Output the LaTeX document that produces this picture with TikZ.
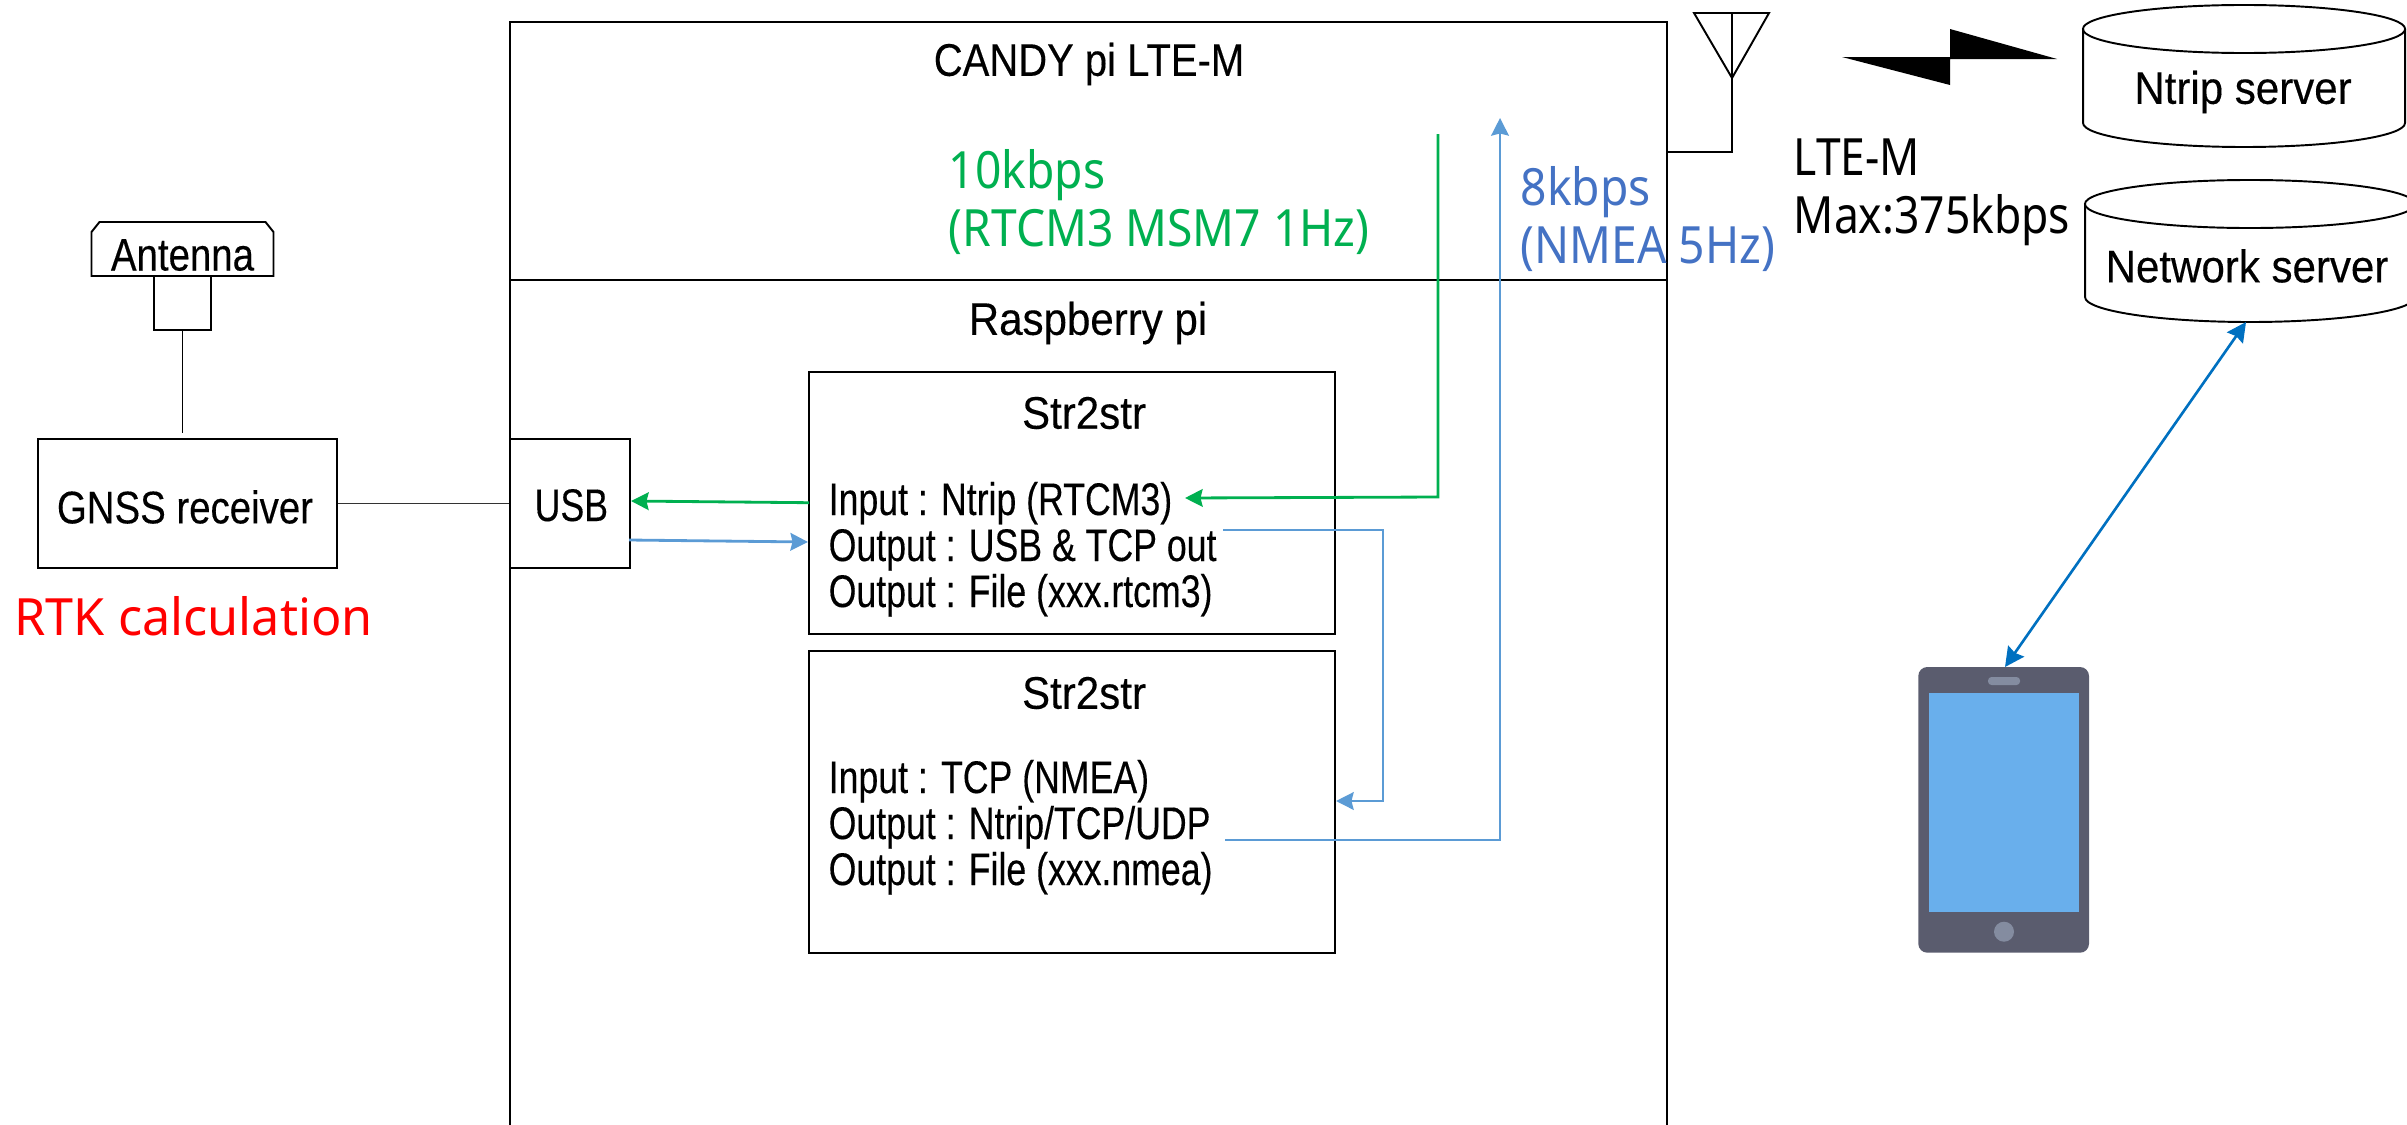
\documentclass[tikz,border=0pt]{standalone}
\usepackage{fontspec}
\setmainfont{Liberation Sans}
\newfontfamily\gothic[FakeStretch=0.92,FakeBold=0.25]{Liberation Sans}
\newfontfamily\gothicn[FakeStretch=0.78,FakeBold=0.25]{Liberation Sans}
\newfontfamily\gothicm[FakeStretch=0.84,FakeBold=0.25]{Liberation Sans}
\newfontfamily\gothich[FakeStretch=0.875,FakeBold=0.25]{Liberation Sans}
\newfontfamily\meiryo[FakeStretch=0.90]{Noto Sans}
\newfontfamily\meiryob[FakeStretch=0.865]{Noto Sans}
\newfontfamily\meiryoc[FakeStretch=0.98]{Noto Sans}
\usetikzlibrary{arrows.meta}
\definecolor{grn}{HTML}{00B050}
\definecolor{blu}{HTML}{5B9BD5}
\definecolor{txtblu}{HTML}{4472C4}
\definecolor{dblu}{HTML}{0070C0}
\definecolor{phone}{HTML}{5A5C6E}
\definecolor{screen}{HTML}{69AFEC}
\definecolor{phgray}{HTML}{848CA0}
\tikzset{
  boxx/.style={draw=black,line width=0.55pt,fill=white,inner sep=0pt},
  goth/.style={inner sep=0pt,font=\gothic\fontsize{13}{15}\selectfont},
  gothm/.style={inner sep=0pt,font=\gothicm\fontsize{13}{15}\selectfont},
  gothh/.style={inner sep=0pt,font=\gothich\fontsize{13}{15}\selectfont},
  gothl/.style={inner sep=0pt,anchor=base west,font=\gothicn\fontsize{13}{15}\selectfont},
  mei/.style={inner sep=0pt,anchor=base west,font=\meiryo\fontsize{14.6}{17}\selectfont},
  meib/.style={inner sep=0pt,anchor=base west,font=\meiryob\fontsize{14.6}{17}\selectfont},
  meic/.style={inner sep=0pt,anchor=base west,font=\meiryoc\fontsize{14.6}{17}\selectfont},
  thin line/.style={draw=black,line width=0.4pt},
  frame/.style={draw=black,line width=0.55pt},
  grnarrow/.style={draw=grn,line width=0.8pt,-{Stealth[length=5pt,width=5pt,inset=0.6pt]}},
  bluarrow/.style={draw=blu,line width=0.8pt,-{Stealth[length=5pt,width=5pt,inset=0.6pt]}},
  dblarrow/.style={draw=dblu,line width=0.75pt,{Stealth[length=5.5pt,width=5.5pt,inset=0.6pt]}-{Stealth[length=5.5pt,width=5.5pt,inset=0.6pt]}},
}
\begin{document}
\begin{tikzpicture}[x=0.01cm,y=-0.01cm]
\useasboundingbox (0,0) rectangle (2407,1124);
\clip (0,0) rectangle (2407,1124);
% main frame
\draw[frame] (510,1130) -- (510,22) -- (1667,22) -- (1667,1130);
\draw[frame] (510,280) -- (1667,280);
\node[gothh] (candy) at (1089,64) {CANDY pi LTE-M};
\node[goth] (rasp) at (1088,323) {Raspberry pi};
% antenna left
\path[boxx,draw] (91.5,276) -- (91.5,232) -- (99.5,222) -- (265.5,222) -- (273.5,232) -- (273.5,276) -- cycle;
\node[gothm] (ant) at (182.5,255) {Antenna};
\node[boxx,minimum width=0.57cm,minimum height=0.54cm] (antbase) at (182.5,303) {};
% GNSS, USB
\node[boxx,minimum width=2.995cm,minimum height=1.29cm] (gnss) at (187.5,503.5) {};
\node[gothm] (gnsstxt) at (185,507) {GNSS receiver};
\node[boxx,minimum width=1.2cm,minimum height=1.29cm] (usb) at (570,503.5) {};
\node[gothl] (usbtxt) at (534,521) {USB};
\coordinate (antfree) at (182.5,433);
\draw[thin line] (antbase.south) -- (antfree);
\draw[draw=black!80,line width=0.55pt] (gnss.east) -- (usb.west);
\node[meic,text=red] (rtk) at (14,635) {RTK calculation};
% str2str boxes
\node[boxx,minimum width=5.26cm,minimum height=2.625cm] (s1) at (1072,503) {};
\node[boxx,minimum width=5.26cm,minimum height=3.01cm] (s2) at (1072,802) {};
\node[goth] (s1t) at (1084,413) {Str2str};
\node[goth] (s2t) at (1084,693) {Str2str};
\node[gothl] (l1) at (828,515) {Input : Ntrip (RTCM3)};
\node[gothl] (l2) at (828,561) {Output : USB \& TCP out};
\node[gothl] (l3) at (828,607) {Output : File (xxx.rtcm3)};
\node[gothl] (l4) at (828,793) {Input : TCP (NMEA)};
\node[gothl] (l5) at (828,839) {Output : Ntrip/TCP/UDP};
\node[gothl] (l6) at (828,885) {Output : File (xxx.nmea)};
% labels
\node[mei,text=grn] (g1) at (948,188) {10kbps};
\node[mei,text=grn] (g2) at (948,246) {(RTCM3 MSM7 1Hz)};
\node[mei,text=txtblu] (b1) at (1520,205) {8kbps};
\node[mei,text=txtblu] (b2) at (1520,263) {(NMEA 5Hz)};
\node[meib] (lte1) at (1793,175) {LTE-M};
\node[meib] (lte2) at (1793,233) {Max:375kbps};
% connectors
\coordinate (gtop) at (1438,134);
\coordinate (gcorner) at (1438,497);
\coordinate (gend) at (1185,498);
\draw[grnarrow] (gtop) -- (gcorner) -- (gend);
\coordinate (gu1) at (809,502.7);
\coordinate (gu2) at (631,501);
\draw[grnarrow] (gu1) -- (gu2);
\coordinate (bu1) at (629,540);
\coordinate (bu2) at (808,542);
\draw[bluarrow] (bu1) -- (bu2);
\coordinate (o1) at (1223,530);
\coordinate (o1b) at (1383,530);
\coordinate (o1c) at (1383,801);
\coordinate (o1d) at (1336,801);
\draw[bluarrow] (o1) -- (o1b) -- (o1c) -- (o1d);
\coordinate (o2) at (1225,840);
\coordinate (o2b) at (1500,840);
\coordinate (o2c) at (1500,118);
\draw[bluarrow] (o2) -- (o2b) -- (o2c);
% radio antenna
\coordinate (rtl) at (1694,13);
\coordinate (rtr) at (1769,13);
\coordinate (rtm) at (1732,13);
\coordinate (rap) at (1732,78);
\coordinate (rbot) at (1732,152);
\coordinate (rbox) at (1667,152);
\draw[frame] (rtl) -- (rtr) -- (rap) -- cycle;
\draw[thin line] (rtm) -- (rbot) -- (rbox);
% lightning
\fill[black] (1842,57) -- (1950,57) -- (1950,29) -- (2057,59) -- (1950,59) -- (1950,85) -- cycle;
% cylinders
\draw[frame] (2083,29) -- (2083,123) arc[start angle=180,end angle=360,x radius=161,y radius=-24] -- (2405,29);
\draw[frame] (2244,29) ellipse [x radius=1.61cm,y radius=0.24cm];
\node[goth] (ntrip) at (2243,92) {Ntrip server};
\draw[frame] (2085,205) -- (2085,297) arc[start angle=180,end angle=360,x radius=165,y radius=-25] -- (2415,205);
\draw[frame] (2250,204) ellipse [x radius=1.65cm,y radius=0.24cm];
\node[goth] (net) at (2247,266) {Network server};
% phone
\fill[phone,rounded corners=0.09cm] (1918.3,667) rectangle (2089,952.7);
\fill[screen] (1929.3,693.3) rectangle (2078.7,912.3);
\fill[phgray,rounded corners=0.035cm] (1988,677) rectangle (2020,685);
\node[circle,fill=phgray,minimum size=0.2cm,inner sep=0pt] (btn) at (2004,931.7) {};
\coordinate (phtop) at (2005,667);
\coordinate (nettop) at (2246,322);
\draw[dblarrow] (nettop) -- (phtop);
\end{tikzpicture}
\end{document}
